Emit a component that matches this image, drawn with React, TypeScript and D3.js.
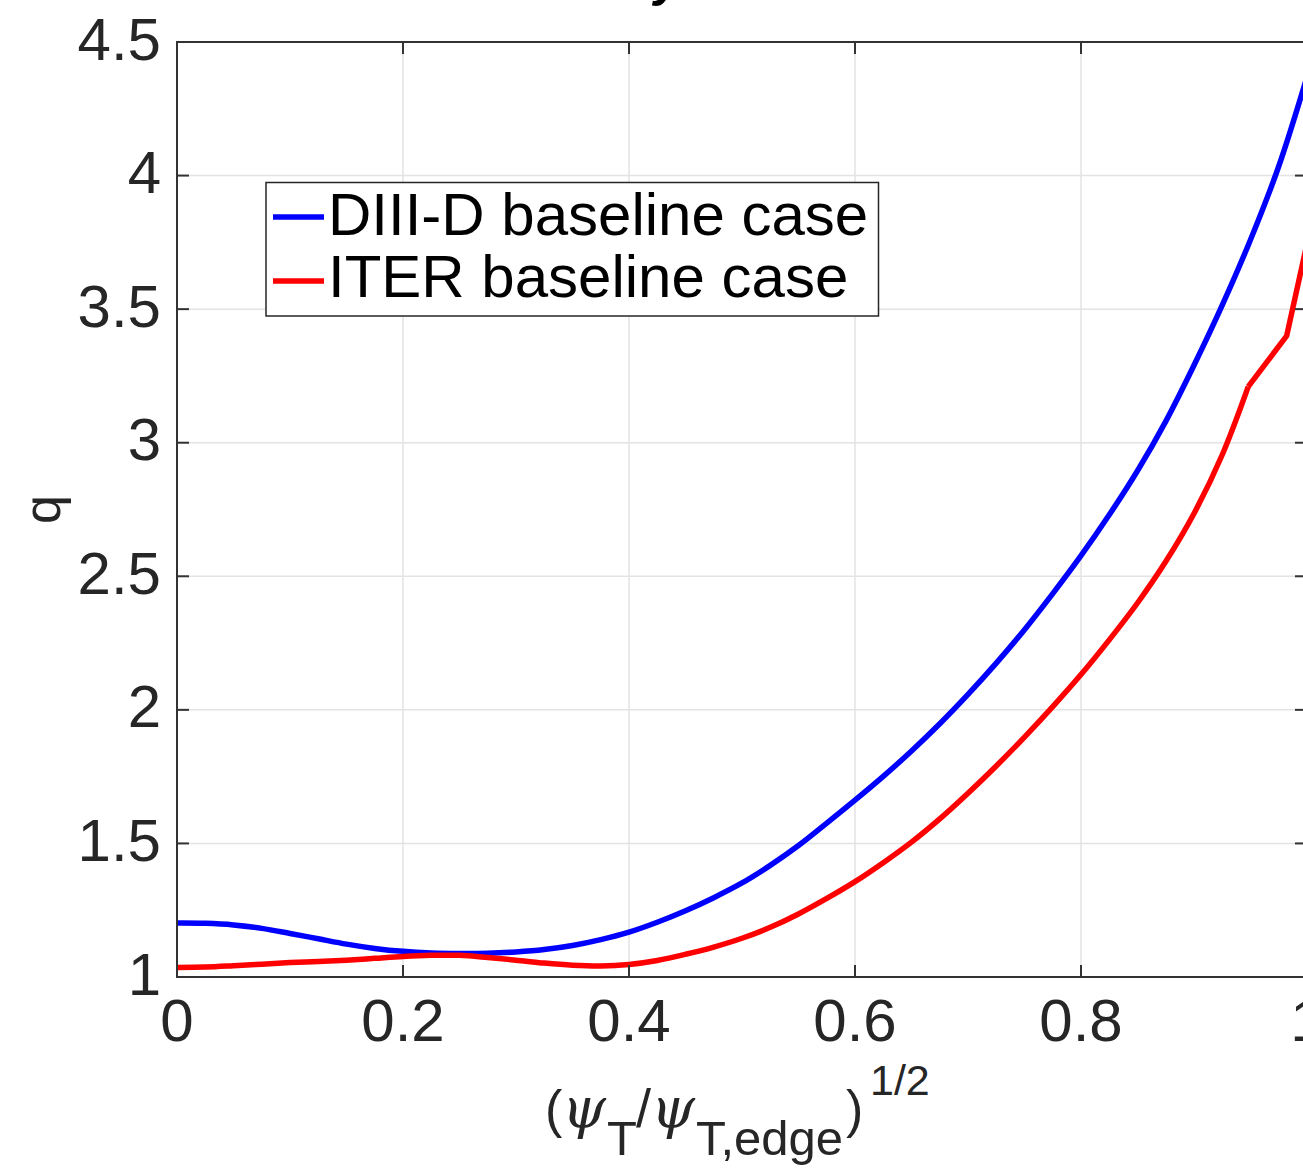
import React from "react";
import * as d3 from "d3";

const xTicks = [0, 0.2, 0.4, 0.6, 0.8, 1];
const xTickLabels = ["0", "0.2", "0.4", "0.6", "0.8", "1"];
const yTicks = [1, 1.5, 2, 2.5, 3, 3.5, 4, 4.5];
const yTickLabels = ["1", "1.5", "2", "2.5", "3", "3.5", "4", "4.5"];

const seriesNames = ["DIII-D baseline case", "ITER baseline case"];
const seriesColors = ["#0000ff", "#ff0000"];

const diiidX = [0, 0.025, 0.05, 0.075, 0.1, 0.125, 0.15, 0.175, 0.2, 0.225, 0.25, 0.275, 0.3, 0.325, 0.35, 0.375, 0.4, 0.425, 0.45, 0.475, 0.5, 0.525, 0.55, 0.575, 0.6, 0.625, 0.65, 0.675, 0.7, 0.725, 0.75, 0.775, 0.8, 0.825, 0.85, 0.875, 0.9, 0.925, 0.95, 0.975, 1.0];
const diiidQ = [1.202, 1.201, 1.195, 1.182, 1.163, 1.143, 1.123, 1.107, 1.096, 1.09, 1.088, 1.089, 1.094, 1.103, 1.118, 1.14, 1.168, 1.205, 1.248, 1.297, 1.352, 1.418, 1.492, 1.576, 1.662, 1.751, 1.846, 1.948, 2.058, 2.175, 2.3, 2.435, 2.577, 2.73, 2.895, 3.08, 3.29, 3.515, 3.76, 4.035, 4.37];

const iterX = [0, 0.025, 0.05, 0.075, 0.1, 0.125, 0.15, 0.175, 0.2, 0.225, 0.25, 0.275, 0.3, 0.325, 0.35, 0.375, 0.4, 0.425, 0.45, 0.475, 0.5, 0.525, 0.55, 0.575, 0.6, 0.625, 0.65, 0.675, 0.7, 0.725, 0.75, 0.775, 0.8, 0.825, 0.85, 0.875, 0.9, 0.925, 0.948, 0.982, 1.0];
const iterQ = [1.036, 1.037, 1.042, 1.048, 1.054, 1.058, 1.063, 1.07, 1.077, 1.081, 1.081, 1.073, 1.063, 1.052, 1.044, 1.041, 1.047, 1.062, 1.085, 1.112, 1.145, 1.186, 1.236, 1.294, 1.357, 1.428, 1.505, 1.592, 1.688, 1.79, 1.898, 2.012, 2.132, 2.262, 2.4, 2.555, 2.735, 2.955, 3.21, 3.4, 3.745];
const iterKinkStart = 0.948;

const W = 1303;
const H = 1171;
const L = 177, R = 1307, T = 42, B = 977;

export default function App() {
  const x = d3.scaleLinear().domain([0, 1]).range([L, R]);
  const y = d3.scaleLinear().domain([1, 4.5]).range([B, T]);

  const blue = diiidX.map((v, i) => [v, diiidQ[i]] as [number, number]);
  const red = iterX.map((v, i) => [v, iterQ[i]] as [number, number]);
  const redSmooth = red.filter((p) => p[0] <= iterKinkStart);
  const redTail = red.filter((p) => p[0] >= iterKinkStart);

  const smooth = d3.line<[number, number]>().x((d) => x(d[0])).y((d) => y(d[1])).curve(d3.curveCatmullRom.alpha(0.5));
  const straight = d3.line<[number, number]>().x((d) => x(d[0])).y((d) => y(d[1]));

  const axisColor = "#333333";
  const textColor = "#262626";
  const gridColor = "#e3e3e3";
  const tickLen = 12;
  const font = "'Liberation Sans', Arial, Helvetica, sans-serif";
  const serif = "'DejaVu Serif', 'Liberation Serif', serif";

  return (
    <svg width={W} height={H} style={{ position: "absolute", left: 0, top: 0, background: "#fff" }}>
      <rect x={0} y={0} width={W} height={H} fill="#ffffff" />
      {/* partial title */}
      <text x={668} y={-4} fontFamily={font} fontSize={50} fontWeight="bold" fontStyle="italic" textAnchor="middle" fill="#000">y</text>

      {/* grid */}
      {xTicks.filter((t) => t > 0 && t < 1).map((t) => (
        <line key={"gx" + t} x1={x(t)} x2={x(t)} y1={T} y2={B} stroke={gridColor} strokeWidth={1.5} />
      ))}
      {yTicks.filter((t) => t > 1 && t < 4.5).map((t) => (
        <line key={"gy" + t} x1={L} x2={R} y1={y(t)} y2={y(t)} stroke={gridColor} strokeWidth={1.5} />
      ))}

      {/* lines */}
      <path d={smooth(blue) || ""} fill="none" stroke={seriesColors[0]} strokeWidth={5.5} strokeLinejoin="round" />
      <path d={smooth(redSmooth) || ""} fill="none" stroke={seriesColors[1]} strokeWidth={5.5} strokeLinejoin="round" />
      <path d={straight(redTail) || ""} fill="none" stroke={seriesColors[1]} strokeWidth={5.5} strokeLinejoin="round" />

      {/* axes box */}
      <rect x={L} y={T} width={R - L} height={B - T} fill="none" stroke={axisColor} strokeWidth={2} />
      {xTicks.map((t) => (
        <g key={"tx" + t}>
          <line x1={x(t)} x2={x(t)} y1={B} y2={B - tickLen} stroke={axisColor} strokeWidth={2} />
          <line x1={x(t)} x2={x(t)} y1={T} y2={T + tickLen} stroke={axisColor} strokeWidth={2} />
        </g>
      ))}
      {yTicks.map((t) => (
        <g key={"ty" + t}>
          <line x1={L} x2={L + tickLen} y1={y(t)} y2={y(t)} stroke={axisColor} strokeWidth={2} />
          <line x1={R} x2={R - tickLen} y1={y(t)} y2={y(t)} stroke={axisColor} strokeWidth={2} />
        </g>
      ))}

      {/* tick labels */}
      {xTicks.map((t, i) => (
        <text key={"lx" + t} x={x(t)} y={B + 64} fontFamily={font} fontSize={60} textAnchor="middle" fill={textColor}>{xTickLabels[i]}</text>
      ))}
      {yTicks.map((t, i) => (
        <text key={"ly" + t} x={161} y={y(t) + 17.5} fontFamily={font} fontSize={60} textAnchor="end" fill={textColor}>{yTickLabels[i]}</text>
      ))}

      {/* y label */}
      <text transform={`translate(60, ${(T + B) / 2}) rotate(-90)`} fontFamily={font} fontSize={52} textAnchor="middle" fill={textColor}>q</text>

      {/* x label */}
      <g fontFamily={font} fill={textColor}>
        <text x={545} y={1127} fontSize={52}>(</text>
        <text x={562} y={1127} fontSize={56} fontFamily={serif} fontStyle="italic">ψ</text>
        <text x={607} y={1155} fontSize={49}>T</text>
        <text x={636} y={1127} fontSize={54}>/</text>
        <text x={651} y={1127} fontSize={56} fontFamily={serif} fontStyle="italic">ψ</text>
        <text x={696} y={1155} fontSize={49}>T,edge</text>
        <text x={846} y={1127} fontSize={52}>)</text>
        <text x={870} y={1095} fontSize={43}>1/2</text>
      </g>

      {/* legend */}
      <rect x={266} y={182.5} width={612.5} height={133.5} fill="#ffffff" stroke={textColor} strokeWidth={1.5} />
      {seriesNames.map((name, i) => (
        <g key={name}>
          <line x1={273} x2={324} y1={217 + i * 64} y2={217 + i * 64} stroke={seriesColors[i]} strokeWidth={5.5} />
          <text x={328} y={234.5 + i * 62.3} fontFamily={font} fontSize={60} fill="#000">{name}</text>
        </g>
      ))}
    </svg>
  );
}
